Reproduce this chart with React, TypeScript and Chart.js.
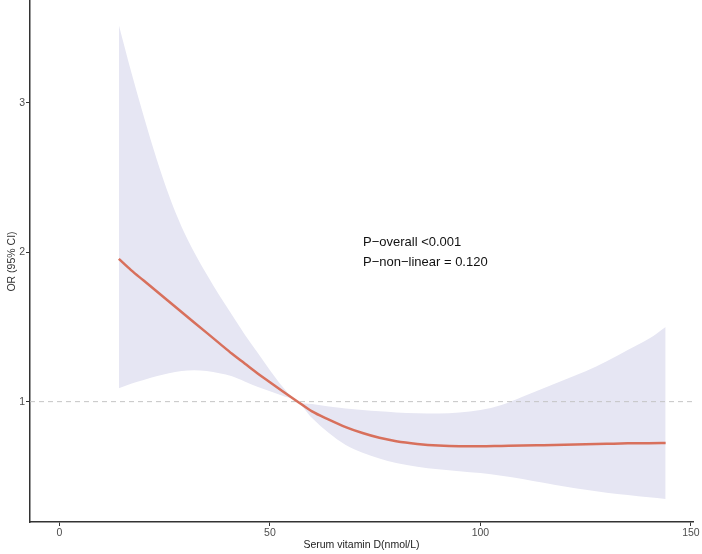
import React, { useEffect, useRef } from "react";
import { Chart, registerables } from "chart.js";

Chart.register(...registerables);

// Serum vitamin D (nmol/L) grid
const xValues = [14.1, 17, 20, 23, 26, 29, 32, 35, 38, 41, 44, 47, 50, 53, 56.6, 60, 64, 68, 72, 76, 80, 85, 90, 95, 100, 105, 110, 115, 120, 125, 130, 135, 140, 144];
// OR estimate
const orEstimate = [1.955, 1.88, 1.81, 1.74, 1.67, 1.6, 1.53, 1.46, 1.39, 1.32, 1.255, 1.19, 1.13, 1.07, 1.0, 0.935, 0.88, 0.83, 0.79, 0.758, 0.735, 0.717, 0.706, 0.702, 0.702, 0.704, 0.706, 0.709, 0.712, 0.715, 0.718, 0.721, 0.722, 0.723];
// 95% CI upper
const ciUpper = [3.52, 3.21, 2.91, 2.63, 2.38, 2.17, 2.0, 1.85, 1.71, 1.58, 1.45, 1.33, 1.21, 1.1, 1.0, 0.985, 0.968, 0.955, 0.944, 0.935, 0.928, 0.922, 0.921, 0.928, 0.944, 0.978, 1.033, 1.09, 1.146, 1.203, 1.27, 1.345, 1.42, 1.5];
// 95% CI lower
const ciLower = [1.09, 1.12, 1.145, 1.17, 1.19, 1.205, 1.21, 1.205, 1.19, 1.17, 1.135, 1.1, 1.07, 1.04, 1.0, 0.89, 0.79, 0.71, 0.658, 0.62, 0.59, 0.565, 0.548, 0.535, 0.522, 0.505, 0.483, 0.457, 0.432, 0.41, 0.39, 0.375, 0.36, 0.349];

const xTicks = [0, 50, 100, 150];
const yTicks = [1, 2, 3];
const xRange = [-7.0, 150.5];
const yRange = [0.195, 3.68];
const refValue = 1;

const annotLines = ["P\u2212overall <0.001", "P\u2212non\u2212linear = 0.120"];
const annotPos = { x: 72.1, y: 2.064 };

const FONT = '"Liberation Sans", Arial, Helvetica, sans-serif';

const toPts = (ys: number[]) => ys.map((y, i) => ({ x: xValues[i], y }));

const annotationPlugin = {
  id: "pText",
  afterDatasetsDraw(chart: any) {
    const { ctx, scales } = chart;
    const px = scales.x.getPixelForValue(annotPos.x);
    const py = scales.y.getPixelForValue(annotPos.y);
    ctx.save();
    ctx.font = `13px ${FONT}`;
    ctx.fillStyle = "#111111";
    ctx.textAlign = "left";
    ctx.textBaseline = "middle";
    annotLines.forEach((t, i) => ctx.fillText(t, px, py + i * 20));
    ctx.restore();
  },
};

export default function App() {
  const ref = useRef<HTMLCanvasElement | null>(null);

  useEffect(() => {
    if (!ref.current) return;
    const chart = new Chart(ref.current, {
      type: "line",
      data: {
        datasets: [
          {
            label: "OR",
            data: toPts(orEstimate),
            borderColor: "#D8705C",
            borderWidth: 2.5,
            pointRadius: 0,
            fill: false,
            cubicInterpolationMode: "monotone",
          },
          {
            label: "ref",
            data: [
              { x: xRange[0], y: refValue },
              { x: xRange[1], y: refValue },
            ],
            borderColor: "#C4C4C4",
            borderWidth: 1,
            borderDash: [5, 4],
            pointRadius: 0,
            fill: false,
          },
          {
            label: "upper",
            data: toPts(ciUpper),
            borderWidth: 0,
            borderColor: "rgba(0,0,0,0)",
            backgroundColor: "#E6E6F3",
            pointRadius: 0,
            fill: 3,
            cubicInterpolationMode: "monotone",
          },
          {
            label: "lower",
            data: toPts(ciLower),
            borderWidth: 0,
            borderColor: "rgba(0,0,0,0)",
            pointRadius: 0,
            fill: false,
            cubicInterpolationMode: "monotone",
          },
        ],
      } as any,
      options: {
        animation: false,
        responsive: false,
        devicePixelRatio: 1,
        layout: { padding: { top: 1, right: 9, left: 0, bottom: 0 } },
        plugins: {
          legend: { display: false },
          tooltip: { enabled: false },
        },
        scales: {
          x: {
            type: "linear",
            min: xRange[0],
            max: xRange[1],
            afterBuildTicks: (s: any) => {
              s.ticks = xTicks.map((v) => ({ value: v }));
            },
            afterFit: (s: any) => {
              s.height = 32;
            },
            grid: {
              display: true,
              drawOnChartArea: false,
              drawTicks: true,
              tickLength: 4,
              color: "#333333",
              lineWidth: 1,
            },
            border: { display: true, color: "#333333", width: 1.5 },
            ticks: {
              color: "#4D4D4D",
              font: { family: FONT, size: 10.5 },
              padding: 1,
              maxRotation: 0,
              autoSkip: false,
              callback: (v: any) => String(v),
            },
            title: {
              display: true,
              text: "Serum vitamin D(nmol/L)",
              color: "#222222",
              font: { family: FONT, size: 10.5 },
              padding: { top: 0, bottom: 3 },
            },
          },
          y: {
            type: "linear",
            min: yRange[0],
            max: yRange[1],
            afterBuildTicks: (s: any) => {
              s.ticks = yTicks.map((v) => ({ value: v }));
            },
            afterFit: (s: any) => {
              s.width = 30;
              s.paddingTop = 0;
              s.paddingBottom = 0;
            },
            grid: {
              display: true,
              drawOnChartArea: false,
              drawTicks: true,
              tickLength: 4,
              color: "#333333",
              lineWidth: 1,
            },
            border: { display: true, color: "#333333", width: 1.5 },
            ticks: {
              color: "#4D4D4D",
              font: { family: FONT, size: 10.5 },
              padding: 1,
              callback: (v: any) => String(v),
            },
            title: {
              display: true,
              text: "OR (95% CI)",
              color: "#333333",
              font: { family: FONT, size: 10.5 },
              padding: { top: 6, bottom: 0 },
            },
          },
        },
      } as any,
      plugins: [annotationPlugin],
    });
    return () => chart.destroy();
  }, []);

  return (
    <div style={{ position: "fixed", left: 0, top: 0, width: 702, height: 554, background: "#ffffff" }}>
      <canvas ref={ref} width={702} height={554} style={{ width: 702, height: 554, display: "block" }} />
    </div>
  );
}
